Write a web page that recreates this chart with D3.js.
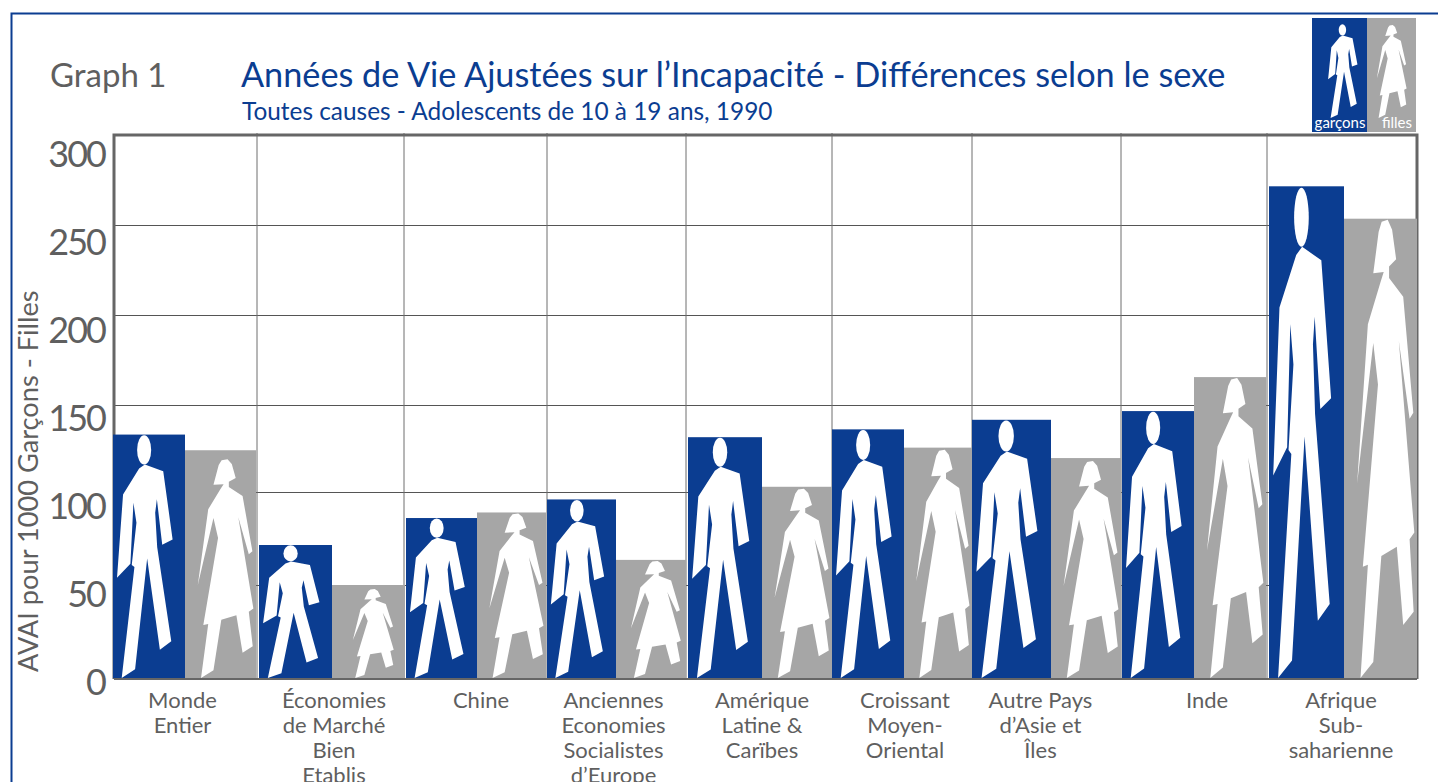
<!DOCTYPE html>
<html lang="fr">
<head>
<meta charset="utf-8">
<script src="https://cdn.jsdelivr.net/npm/d3@7"></script>
<style>
  html, body { margin: 0; padding: 0; background: #fff; overflow: hidden; }
  svg { display: block; font-family: Lato, "Open Sans", sans-serif; }
</style>
</head>
<body>
<div class="chart"></div>
<script>
// data
const categories = [
    ['Monde', 'Entier'],
    ['Économies', 'de Marché', 'Bien', 'Etablis'],
    ['Chine'],
    ['Anciennes', 'Economies', 'Socialistes', 'd’Europe'],
    ['Amérique', 'Latine &', 'Carïbes'],
    ['Croissant', 'Moyen-', 'Oriental'],
    ['Autre Pays', 'd’Asie et', 'Îles'],
    ['Inde'],
    ['Afrique', 'Sub-', 'saharienne']
];
const garcons = [133, 71.5, 86, 96, 131.5, 136, 141.5, 146.5, 271.5];
const filles = [124, 50, 89, 63.5, 103, 125.5, 119.5, 165.5, 253.5];
const yTicks = [0, 50, 100, 150, 200, 250, 300];

// layout
const width = 1438;
const height = 782;
const blue = '#0b3d91';
const gray = '#a6a6a6';
const textGray = '#5f5f5f';
const plot = { left: 114, right: 1417, top: 135, bottom: 679 };

// the printed grid is not quite regular, so the scales go through its lines
const yScale = d3.scaleLinear().domain(yTicks).range([678, 585, 492, 405, 315, 225, 135]);
const yLabelScale = d3.scaleLinear().domain([0, 300]).range([683, 155]);
// start, split and end of each pair of bars
const barStops = [
    113, 185, 256, 259, 332, 405, 406, 477, 546, 547, 616, 686, 688, 762, 832,
    832, 904, 972, 972, 1051, 1121, 1122, 1194, 1266, 1269, 1344, 1417
];
const xScale = d3.scaleLinear().domain(d3.range(barStops.length)).range(barStops);
const gridX = [257, 404, 547, 686, 832, 972, 1121, 1267];
const labelNudge = [-2, 2, 5, -3, 2, 3, -6, 13, -2];
const girlTopInset = [9, 4, 1, 1, 2, 2, 3, 1, 1];

// silhouettes, traced in their own box
const manBox = [215, 731];
const manHead = { cx: 93, cy: 46, rx: 21, ry: 44 };
const manBody = [
    [95, 90], [150, 110], [178, 315], [147, 331], [131, 194], [126, 235], [132, 338], [174, 621],
    [140, 646], [102, 372], [66, 705], [26, 731], [64, 398], [56, 392], [70, 265],
    [61, 205], [52, 388], [12, 430], [30, 180], [78, 102]
];
const womanBox = [217, 684];
const womanBody = [
    [112, 3], [130, 0], [143, 15], [155, 59], [134, 70], [134, 87], [176, 115], [206, 288],
    [195, 297], [163, 181], [209, 467], [195, 477], [207, 585], [176, 605], [157, 488], [111, 502],
    [87, 660], [49, 684], [71, 515], [56, 518], [101, 246], [87, 184], [39, 394], [71, 156],
    [108, 94], [118, 78], [87, 80], [103, 18]
];

const svg = d3.select('.chart')
    .append('svg')
    .attr('width', width)
    .attr('height', height);

// outer frame
svg.append('path')
    .attr('d', `M11.5,${height}V13.5H${width}`)
    .attr('fill', 'none')
    .attr('stroke', blue)
    .attr('stroke-width', 2);

// header
const addText = (x, y, size, fill, label) => svg.append('text')
    .attr('x', x).attr('y', y)
    .style('font-size', size + 'px')
    .style('fill', fill)
    .text(label);
addText(50, 87, 33, textGray, 'Graph 1');
addText(241, 87, 34.25, blue, 'Années de Vie Ajustées sur l’Incapacité - Différences selon le sexe');
addText(242, 120, 24.4, blue, 'Toutes causes - Adolescents de 10 à 19 ans, 1990');

// grid
svg.append('g')
    .attr('class', 'grid')
    .attr('transform', `translate(${plot.left},0)`)
    .call(d3.axisLeft(yScale)
        .tickValues(yTicks.slice(1, -1))
        .tickSize(-(plot.right - plot.left))
        .tickFormat(''))
    .call(g => g.select('.domain').remove())
    .selectAll('line')
    .attr('stroke', '#555');

svg.append('g')
    .selectAll('line')
    .data(gridX)
    .enter()
    .append('line')
    .attr('x1', d => d).attr('x2', d => d)
    .attr('y1', plot.top - 2).attr('y2', plot.bottom)
    .attr('stroke', '#6f6f6f');

// plot frame, under the bars
svg.append('path')
    .attr('d', `M${plot.left},${plot.bottom}V${plot.top}H${plot.right}V${plot.bottom}`)
    .attr('fill', 'none')
    .attr('stroke', '#666')
    .attr('stroke-width', 3);
svg.append('line')
    .attr('x1', plot.left).attr('x2', plot.right)
    .attr('y1', plot.bottom).attr('y2', plot.bottom)
    .attr('stroke', '#666')
    .attr('stroke-width', 2);

// y labels
svg.append('g')
    .attr('transform', 'translate(105,0)')
    .call(d3.axisLeft(yLabelScale).tickValues(yTicks).tickSize(0).tickPadding(0))
    .call(g => g.select('.domain').remove())
    .selectAll('text')
    .style('font-family', 'Lato, sans-serif')
    .style('font-size', '36px')
    .style('letter-spacing', '-2px')
    .style('fill', textGray);

svg.append('text')
    .attr('transform', 'translate(38,672) rotate(-90)')
    .style('font-size', '27.2px')
    .style('fill', textGray)
    .text('AVAI pour 1000 Garçons - Filles');

// draws a silhouette into a box, stretched the way the printed bars stretch it
const line = d3.line();
const drawFigure = (parent, box, body, head, x0, x1, y0, y1) => {
    const sx = d3.scaleLinear().domain([0, box[0]]).range([x0, x1]);
    const sy = d3.scaleLinear().domain([0, box[1]]).range([y0, y1]);
    parent.append('path')
        .attr('d', line(body.map(p => [sx(p[0]), sy(p[1])])) + 'Z')
        .attr('fill', '#fff');
    if (head) {
        parent.append('ellipse')
            .attr('cx', sx(head.cx))
            .attr('cy', sy(head.cy))
            .attr('rx', sx(head.rx) - sx(0))
            .attr('ry', sy(head.ry) - sy(0))
            .attr('fill', '#fff');
    }
};

// bars
const baseline = yScale(0);
categories.forEach((c, i) => {
    const x0 = xScale(i * 3);
    const x1 = xScale(i * 3 + 1);
    const x2 = xScale(i * 3 + 2);
    const g = svg.append('g').attr('class', 'pair');

    const yBoy = yScale(garcons[i]);
    g.append('rect')
        .attr('x', x0).attr('y', yBoy)
        .attr('width', x1 - x0).attr('height', baseline - yBoy)
        .attr('fill', blue);
    drawFigure(g, manBox, manBody, manHead, x0, x1, yBoy, baseline);

    const yGirl = yScale(filles[i]);
    g.append('rect')
        .attr('x', x1).attr('y', yGirl)
        .attr('width', x2 - x1).attr('height', baseline - yGirl)
        .attr('fill', gray);
    // short girls are drawn narrower too
    const k = Math.min(1, (baseline - yGirl) / 130);
    const mid = x1 + (x2 - x1) * 0.55;
    drawFigure(g, womanBox, womanBody, null, mid + (x1 - mid) * k, mid + (x2 - mid) * k, yGirl + girlTopInset[i], baseline);

    const label = svg.append('text')
        .attr('text-anchor', 'middle')
        .style('font-size', '22px')
        .style('fill', textGray);
    c.forEach((t, j) => {
        label.append('tspan')
            .attr('x', (x0 + x2) / 2 + labelNudge[i])
            .attr('y', 707.5 + j * 25)
            .text(t);
    });
});

// legend
const legend = svg.append('g').attr('class', 'legend');
legend.append('rect').attr('x', 1312).attr('y', 18).attr('width', 55).attr('height', 114).attr('fill', blue);
legend.append('rect').attr('x', 1367).attr('y', 18).attr('width', 49).attr('height', 114).attr('fill', gray);
drawFigure(legend, manBox, manBody, manHead, 1326, 1364, 24, 118);
drawFigure(legend, womanBox, womanBody, null, 1370, 1408, 25, 118);
[['garçons', 1340], ['filles', 1397]].forEach(([t, x]) => {
    legend.append('text')
        .attr('x', x).attr('y', 128)
        .attr('text-anchor', 'middle')
        .style('font-size', '15px')
        .style('fill', '#fff')
        .text(t);
});
</script>
</body>
</html>
